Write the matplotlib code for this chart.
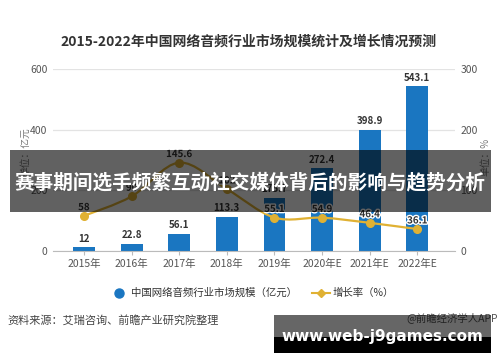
import matplotlib
matplotlib.use("Agg")
import matplotlib.pyplot as plt
from matplotlib.path import Path
from matplotlib.patches import PathPatch, Rectangle
from matplotlib.lines import Line2D
import matplotlib.patheffects as pe
import numpy as np

plt.rcParams['font.family'] = ['Noto Sans CJK SC', 'DejaVu Sans']

categories = ['2015年', '2016年', '2017年', '2018年', '2019年', '2020年E', '2021年E', '2022年E']
market_size = [12, 22.8, 56.1, 113.3, 175.7, 272.4, 398.9, 543.1]
growth_rate = [58, 90.0, 145.6, 102.0, 55.1, 54.9, 46.4, 36.1]
left_ticks = [0, 200, 400, 600]
right_ticks = [0, 100, 200, 300]

title = '2015-2022年中国网络音频行业市场规模统计及增长情况预测'
banner = '赛事期间选手频繁互动社交媒体背后的影响与趋势分析'
legend_bar = '中国网络音频行业市场规模（亿元）'
legend_line = '增长率（%）'
source = '资料来源：艾瑞咨询、前瞻产业研究院整理'
credit = '@前瞻经济学人APP'
site = 'www.web-j9games.com'

BAR = '#1a76c1'
GOLD = '#e0b133'
W, H = 500, 362

fig = plt.figure(figsize=(5, 3.62), dpi=100)
fig.patch.set_facecolor('white')
ax = fig.add_axes([53 / W, 1 - 251 / H, (455 - 53) / W, (251 - 69) / H])
ax2 = ax.twinx()

x = np.arange(len(categories))
ax.bar(x, market_size, width=0.46, color=BAR, zorder=2)
ax.set_ylim(0, 600)
ax.set_xlim(-0.65, 7.79)
ax.set_yticks(left_ticks)
ax.set_xticks(x)
ax.set_xticklabels(categories)
ax.grid(axis='y', color='#e3e3e3', linewidth=0.9, zorder=0)
ax.set_axisbelow(True)
for s in ['top', 'right', 'left']:
    ax.spines[s].set_visible(False)
    ax2.spines[s].set_visible(False)
ax2.spines['bottom'].set_visible(False)
ax.spines['bottom'].set_color('#bbbbbb')
ax.tick_params(axis='y', length=0, labelsize=7.5, labelcolor='#555555', pad=4)
ax.tick_params(axis='x', length=3, color='#bbbbbb', labelsize=7.5, labelcolor='#555555', pad=3)

for xi, v in zip(x, market_size):
    ax.text(xi, v + 12, f'{v:g}', ha='center', va='bottom', fontsize=7, fontweight='bold',
            color='#333333', zorder=3)

ax2.set_ylim(0, 300)
ax2.set_yticks(right_ticks)
ax2.tick_params(axis='y', length=0, labelsize=7.5, labelcolor='#555555', pad=4)

# smooth curve through the growth points (Catmull-Rom as cubic Bezier)
pts = np.column_stack([x, growth_rate]).astype(float)
verts = [tuple(pts[0])]
codes = [Path.MOVETO]
n = len(pts)
for i in range(n - 1):
    p0 = pts[max(i - 1, 0)]
    p1 = pts[i]
    p2 = pts[i + 1]
    p3 = pts[min(i + 2, n - 1)]
    c1 = p1 + (p2 - p0) / 6
    c2 = p2 - (p3 - p1) / 6
    verts += [tuple(c1), tuple(c2), tuple(p2)]
    codes += [Path.CURVE4] * 3
ax2.add_patch(PathPatch(Path(verts, codes), facecolor='none', edgecolor=GOLD, linewidth=1.6, zorder=4))
ax2.plot(x, growth_rate, 'o', color=GOLD, markersize=5.5, zorder=5)
for xi, v in zip(x, growth_rate):
    ax2.text(xi, v + 6, f'{v:g}', ha='center', va='bottom', fontsize=7, fontweight='bold',
             color='#333333', zorder=6,
             path_effects=[pe.withStroke(linewidth=2, foreground='white')])

# axis unit labels
fig.text(25 / W, 1 - 152 / H, '单位：亿元', rotation=90, ha='center', va='center', fontsize=7, color='#777777')
fig.text(485 / W, 1 - 157 / H, '单位：%', rotation=90, ha='center', va='center', fontsize=7, color='#777777')

# title
fig.text(249 / W, 1 - 42 / H, title, ha='center', va='center', fontsize=10, fontweight='bold', color='#333333')

# legend
ly = 1 - 293 / H
fig.add_artist(Line2D([119 / W], [ly], marker='o', color=BAR, markersize=6.5, linestyle='none'))
fig.text(131 / W, ly, legend_bar, ha='left', va='center', fontsize=7.5, color='#333333')
fig.add_artist(Line2D([312 / W, 330 / W], [ly, ly], color=GOLD, linewidth=1.5))
fig.add_artist(Line2D([321 / W], [ly], marker='D', color=GOLD, markersize=4, linestyle='none'))
fig.text(333 / W, ly, legend_line, ha='left', va='center', fontsize=7.5, color='#333333')

# source line
fig.text(7 / W, 1 - 320 / H, source, ha='left', va='center', fontsize=8, color='#444444')
fig.text(498 / W, 1 - 318 / H, credit, ha='right', va='center', fontsize=7.5, color='#555555')

# dark banner
fig.add_artist(Rectangle((10 / W, 1 - 212 / H), 481 / W, 62 / H, transform=fig.transFigure,
                         facecolor='black', alpha=0.62, edgecolor='none', zorder=10))
fig.text(250 / W, 1 - 183 / H, banner, ha='center', va='center', fontsize=14.1, fontweight='bold',
         color='white', zorder=11)

# bottom site box
fig.add_artist(Rectangle((274 / W, 1 - 337 / H), 217 / W, 22 / H, transform=fig.transFigure,
                         facecolor='black', alpha=0.6, edgecolor='none', zorder=10))
fig.add_artist(Rectangle((274 / W, 1 - 353 / H), 217 / W, 16 / H, transform=fig.transFigure,
                         facecolor='black', edgecolor='none', zorder=10))
fig.text(382 / W, 1 - 336 / H, site, ha='center', va='center', fontsize=11, fontweight='bold',
         color='white', family=['DejaVu Sans'], zorder=11)

fig.savefig('out.png', dpi=100, facecolor='white')
